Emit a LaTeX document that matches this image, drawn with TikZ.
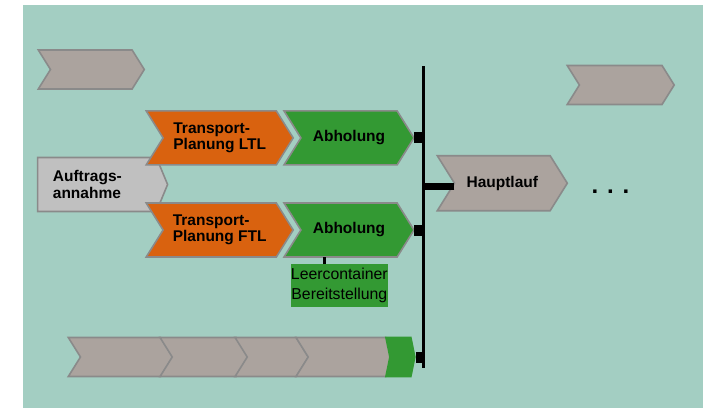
\documentclass[tikz,border=0pt]{standalone}
\usepackage{fontspec}
\setmainfont{Liberation Sans}
\usetikzlibrary{shapes.symbols}
\definecolor{bgteal}{HTML}{A3CEC2}
\definecolor{chevorange}{HTML}{D9620F}
\definecolor{chevgreen}{HTML}{339933}
\definecolor{chevgrey}{HTML}{ABA39E}
\definecolor{chevlight}{HTML}{C0C0C0}
\definecolor{chevline}{HTML}{8A8A8A}

\begin{document}
\begin{tikzpicture}[x=1pt, y=-1pt,
  chev/.style={signal, signal to=east, signal from=west, signal pointer angle=116,
    draw=chevline, line width=1.6pt, inner sep=0pt, outer sep=0pt, align=left,
    font=\bfseries\fontsize{15.5}{15.7}\selectfont},
  greychev/.style={chev, fill=chevgrey},
  orangechev/.style={chev, fill=chevorange, minimum width=147pt, minimum height=54pt},
  greenchev/.style={chev, fill=chevgreen, minimum width=130pt, minimum height=54pt},
  bottomchev/.style={greychev, minimum height=39pt},
  bar/.style={line width=3.5pt},
  plug/.style={line width=11pt}]
\useasboundingbox (0,0) rectangle (708,408);
\fill[bgteal] (23,5) rectangle (703,408);

\node[greychev, minimum width=106pt, minimum height=39pt] (top1) at (91.3,69.5) {};
\node[greychev, minimum width=107pt, minimum height=39pt] (top2) at (620.7,85) {};

\node[chev, fill=chevlight, signal from=nowhere, signal pointer angle=135, minimum width=130pt, minimum height=54pt] (auftrag) at (97,184.5) {};
\node[anchor=west, align=left, inner sep=0pt, font=\bfseries\fontsize{15.5}{17}\selectfont] (auftragtext) at (52.7,184.5) {Auftrags-\\annahme};

\node[orangechev] (tpltl) at (219.7,137.9) {Transport-\\Planung LTL};
\node[greenchev] (abhltl) at (349,137.9) {Abholung};
\node[orangechev] (tpftl) at (219.7,230) {Transport-\\Planung FTL};
\node[greenchev] (abhftl) at (349,230) {Abholung};

\node[fill=chevgreen, minimum width=96.7pt, minimum height=42.4pt, inner sep=0pt, align=center, font=\fontsize{15.8}{20}\selectfont] (leer) at (339.3,285.5) {Leercontainer\\Bereitstellung};

\node[greychev, minimum width=130pt, minimum height=55pt] (haupt) at (502.3,183.2) {Hauptlauf};
\node[anchor=base, inner sep=0pt, font=\bfseries\fontsize{24}{24}\selectfont] (dots) at (610.5,193.5) {. . .};

\node[bottomchev, minimum width=104.4pt] (b1) at (120.5,357) {};
\node[bottomchev, minimum width=88.3pt] (b2) at (204.2,357) {};
\node[bottomchev, minimum width=73.3pt] (b3) at (271.7,357) {};
\node[bottomchev, minimum width=102pt] (b4) at (347,357) {};
\node[signal, signal to=east, signal from=west, signal pointer angle=157, fill=chevgreen, inner sep=0pt, minimum width=30.7pt, minimum height=40.6pt] (b5) at (400.3,357) {};

\coordinate (bartop) at (423.5,66);
\coordinate (barbot) at (423.5,368);
\draw[bar] (bartop) -- (barbot);
\draw[plug] (abhltl.east) -- (abhltl.east -| bartop);
\draw[plug] (abhftl.east) -- (abhftl.east -| bartop);
\draw[plug] (b5.east) -- (b5.east -| bartop);
\draw[line width=7.5pt] ([yshift=-3.5pt]haupt.west) -- ([yshift=-3.5pt]haupt.west -| bartop);
\draw[line width=3.3pt] ([xshift=34pt]leer.north west) -- ([xshift=34pt]leer.north west |- abhftl.south);
\end{tikzpicture}
\end{document}
